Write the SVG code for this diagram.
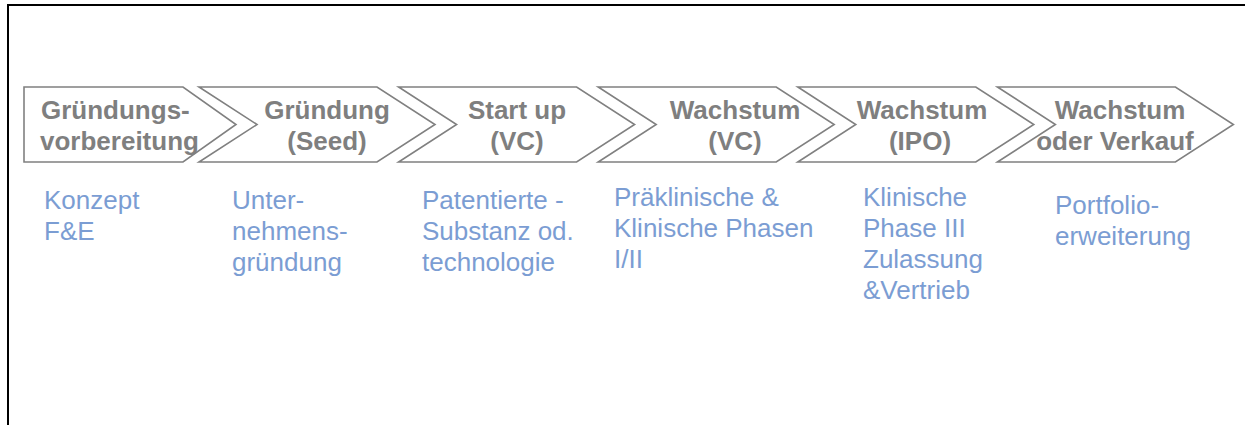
<svg xmlns="http://www.w3.org/2000/svg" xmlns:xlink="http://www.w3.org/1999/xlink" width="1245" height="425" viewBox="0 0 1245 425">
  <style>
    .shape { fill: #ffffff; stroke: #808080; stroke-width: 1.6; stroke-linejoin: miter; }
    .title { font-family: "Liberation Sans", Arial, sans-serif; font-weight: bold; font-size: 26px; fill: #7f7f7f; }
    .desc { font-family: "Liberation Sans", Arial, sans-serif; font-size: 26px; fill: #7b9dd3; }
    .mid { text-anchor: middle; }
  </style>
  <defs>
    <path id="chev" d="M0,87 L178,87 L236,124.5 L178,162 L0,162 L58,124.5 Z"/>
  </defs>
  <rect width="1245" height="425" fill="#ffffff"/>
  <path d="M8,425 L8,5 L1245,5" fill="none" stroke="#000000" stroke-width="2"/>

  <g id="stage1">
    <path class="shape" d="M24,87 L183,87 L236,124.5 L183,162 L24,162 Z"/>
    <text class="title" x="41" y="119">Gründungs-</text>
    <text class="title" x="40" y="150">vorbereitung</text>
    <text class="desc" x="44" y="209">Konzept</text>
    <text class="desc" x="44" y="240">F&amp;E</text>
  </g>
  <g id="stage2">
    <use class="shape" xlink:href="#chev" transform="translate(199,0)"/>
    <text class="title mid" x="327" y="119">Gründung</text>
    <text class="title mid" x="327" y="150">(Seed)</text>
    <text class="desc" x="232" y="209">Unter-</text>
    <text class="desc" x="232" y="240">nehmens-</text>
    <text class="desc" x="232" y="271">gründung</text>
  </g>
  <g id="stage3">
    <use class="shape" xlink:href="#chev" transform="translate(398.6,0)"/>
    <text class="title mid" x="517" y="119">Start up</text>
    <text class="title mid" x="517" y="150">(VC)</text>
    <text class="desc" x="422" y="209">Patentierte -</text>
    <text class="desc" x="422" y="240">Substanz od.</text>
    <text class="desc" x="422" y="271">technologie</text>
  </g>
  <g id="stage4">
    <use class="shape" xlink:href="#chev" transform="translate(598.2,0)"/>
    <text class="title mid" x="735" y="119">Wachstum</text>
    <text class="title mid" x="735" y="150">(VC)</text>
    <text class="desc" x="614" y="206">Präklinische &amp;</text>
    <text class="desc" x="614" y="237">Klinische Phasen</text>
    <text class="desc" x="614" y="268">I/II</text>
  </g>
  <g id="stage5">
    <use class="shape" xlink:href="#chev" transform="translate(797.8,0)"/>
    <text class="title mid" x="922" y="119">Wachstum</text>
    <text class="title mid" x="920" y="150">(IPO)</text>
    <text class="desc" x="863" y="206">Klinische</text>
    <text class="desc" x="863" y="237">Phase III</text>
    <text class="desc" x="863" y="268">Zulassung</text>
    <text class="desc" x="863" y="299">&amp;Vertrieb</text>
  </g>
  <g id="stage6">
    <use class="shape" xlink:href="#chev" transform="translate(997.4,0)"/>
    <text class="title mid" x="1120" y="119">Wachstum</text>
    <text class="title mid" x="1115" y="150">oder Verkauf</text>
    <text class="desc" x="1055" y="214">Portfolio-</text>
    <text class="desc" x="1055" y="245">erweiterung</text>
  </g>
  <g id="connectors"/>
</svg>
